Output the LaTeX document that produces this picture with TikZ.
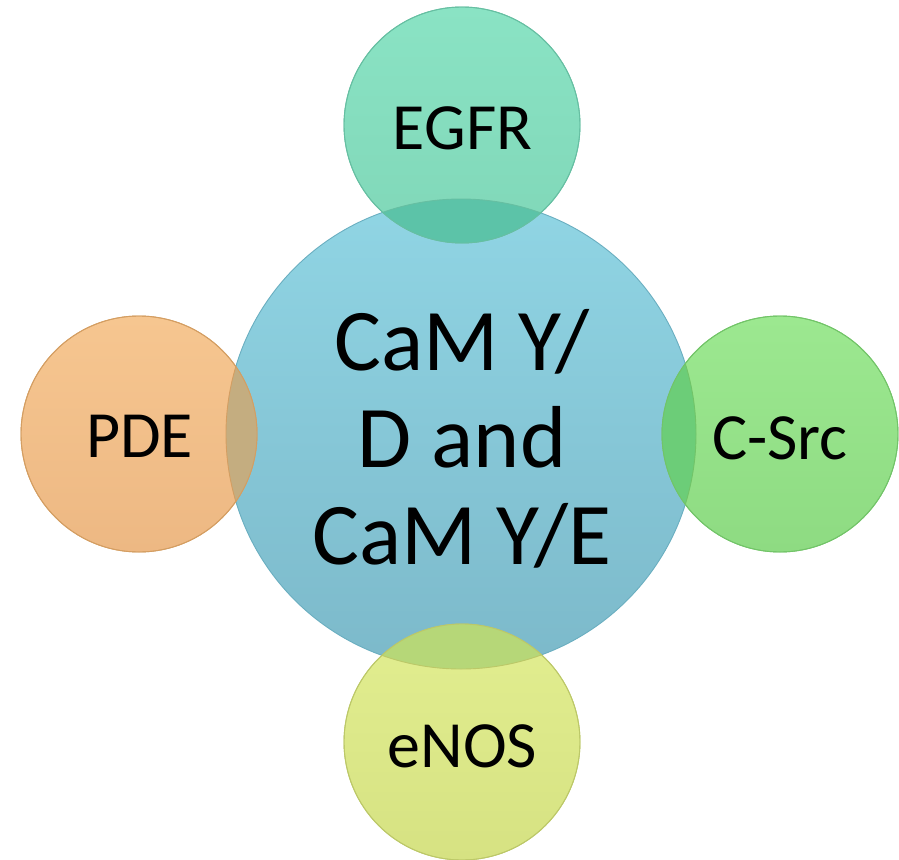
\documentclass[tikz,border=0pt]{standalone}
\usepackage{fontspec}
\setmainfont{Carlito}
\definecolor{camtop}{HTML}{90D5E4}
\definecolor{cambot}{HTML}{7CB9CA}
\definecolor{camline}{HTML}{6AAEC0}
\definecolor{egfrtop}{HTML}{8AE3C4}
\definecolor{egfrbot}{HTML}{80D7B8}
\definecolor{egfrline}{HTML}{66BFA2}
\definecolor{egfrmix}{HTML}{5CC3A8}
\definecolor{pdetop}{HTML}{F6C690}
\definecolor{pdebot}{HTML}{EDB883}
\definecolor{pdeline}{HTML}{D49E62}
\definecolor{pdemix}{HTML}{C4AD80}
\definecolor{srctop}{HTML}{9CE890}
\definecolor{srcbot}{HTML}{8EDB82}
\definecolor{srcline}{HTML}{72C468}
\definecolor{srcmix}{HTML}{6CCD78}
\definecolor{enostop}{HTML}{E2EE90}
\definecolor{enosbot}{HTML}{D6E282}
\definecolor{enosline}{HTML}{BCC868}
\definecolor{enosmix}{HTML}{B6D778}
\begin{document}
\begin{tikzpicture}[x=1pt,y=-1pt,
  bubble/.style={circle, inner sep=0pt, minimum size=236pt, line width=0.9pt},
  bigtext/.style={font=\fontsize{88}{97}\selectfont, align=center, inner sep=0pt},
  smalltext/.style={font=\fontsize{66}{78}\selectfont, inner sep=0pt}
]
\useasboundingbox (0,0) rectangle (899,859);

% central circle
\node[circle, inner sep=0pt, minimum size=470pt, draw=camline, line width=0.9pt,
      top color=camtop, bottom color=cambot] (cam) at (461,434) {};

% outer circles
\node[bubble, draw=egfrline, top color=egfrtop, bottom color=egfrbot] (egfr) at (462,125) {};
\node[bubble, draw=pdeline, top color=pdetop, bottom color=pdebot] (pde) at (139,434) {};
\node[bubble, draw=srcline, top color=srctop, bottom color=srcbot] (src) at (780,434) {};
\node[bubble, draw=enosline, top color=enostop, bottom color=enosbot] (enos) at (462,742) {};

% overlaps of each outer circle with the central one
\foreach \n/\c/\l in {egfr/egfrmix/egfrline, pde/pdemix/pdeline, src/srcmix/srcline, enos/enosmix/enosline}{
  \begin{scope}
    \clip (\n.center) circle[radius=118pt];
    \fill[\c] (cam.center) circle[radius=235pt];
    \draw[\l, line width=0.9pt] (cam.center) circle[radius=235pt];
  \end{scope}
  \draw[\l, line width=0.9pt] (\n.center) circle[radius=118pt];
}

% labels
\node[bigtext] (camtext) at (462,438.5) {CaM Y/\\D and\\CaM Y/E};
\node[smalltext] (egfrtext) at (462.5,128) {EGFR};
\node[smalltext] (pdetext) at (139.5,436) {PDE};
\node[smalltext] (srctext) at (780,438) {C-Src};
\node[smalltext] (enostext) at (462.5,746) {eNOS};
\end{tikzpicture}
\end{document}
